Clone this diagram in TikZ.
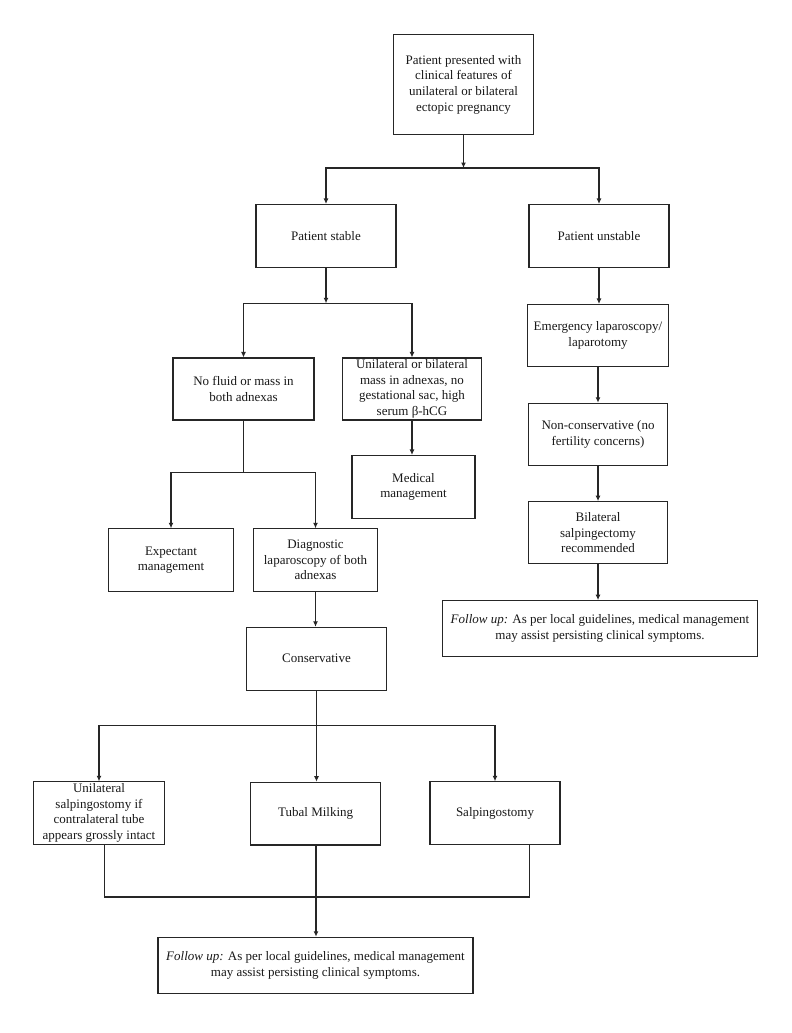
\documentclass[tikz,border=0pt]{standalone}
\usepackage{fontspec}
\setmainfont{Liberation Serif}
\usetikzlibrary{arrows.meta}
\begin{document}
\begin{tikzpicture}[x=1pt,y=-1pt,
  box/.style={draw=black!85, line width=1.1pt, align=center, inner sep=0pt,
    font=\fontsize{13}{15.7}\selectfont, text=black!90},
  conn/.style={draw=black!85, line width=1.1pt},
  arr/.style={conn, -{Latex[length=5.5pt,width=5pt]}}]
\useasboundingbox (0,0) rectangle (792,1033);
\fill[white] (0,0) rectangle (792,1033);

\node[box, minimum width=140pt, minimum height=99.6pt] (top) at (463.5,84.5)
  {Patient presented with\\clinical features of\\unilateral or bilateral\\ectopic pregnancy};
\node[box, minimum width=140pt, minimum height=63pt] (stable) at (326,236) {Patient stable};
\node[box, minimum width=140pt, minimum height=63pt] (unstable) at (599,236) {Patient unstable};
\node[box, minimum width=141pt, minimum height=62pt] (nofluid) at (243.5,389) {No fluid or mass in\\both adnexas};
\node[box, minimum width=139.5pt, minimum height=62pt] (unimass) at (412,389)
  {Unilateral or bilateral\\mass in adnexas, no\\gestational sac, high\\serum β-hCG};
\node[box, minimum width=123pt, minimum height=63pt] (medical) at (413.5,487) {Medical\\management};
\node[box, minimum width=141pt, minimum height=62pt] (emerg) at (598,335.5) {Emergency laparoscopy/\\laparotomy};
\node[box, minimum width=139.5pt, minimum height=62.4pt] (noncons) at (598,434.5) {Non-conservative (no\\fertility concerns)};
\node[box, minimum width=139.5pt, minimum height=62pt] (bilat) at (598,532.7) {Bilateral\\salpingectomy\\recommended};
\node[box, minimum width=314.6pt, minimum height=55.6pt] (fu1) at (600,628.5)
  {\textit{Follow up:} As per local guidelines, medical management\\may assist persisting clinical symptoms.};
\node[box, minimum width=125.4pt, minimum height=62.3pt] (expect) at (171,560) {Expectant\\management};
\node[box, minimum width=124pt, minimum height=62.3pt] (diag) at (315.5,560) {Diagnostic\\laparoscopy of both\\adnexas};
\node[box, minimum width=139.3pt, minimum height=62.7pt] (cons) at (316.5,658.7) {Conservative};
\node[box, minimum width=130.3pt, minimum height=62.3pt] (unisalp) at (99,813)
  {Unilateral\\salpingostomy if\\contralateral tube\\appears grossly intact};
\node[box, minimum width=130pt, minimum height=62.7pt] (tubal) at (315.7,813.6) {Tubal Milking};
\node[box, minimum width=130pt, minimum height=62.3pt] (salp) at (495,813) {Salpingostomy};
\node[box, minimum width=315pt, minimum height=56pt] (fu2) at (315.5,965.3)
  {\textit{Follow up:} As per local guidelines, medical management\\may assist persisting clinical symptoms.};

% junctions
\coordinate (j1) at (463.5,168);
\coordinate (j2) at (326,303.3);
\coordinate (j3) at (243.5,472.7);
\coordinate (j4) at (316.5,725.7);
\coordinate (b1) at (104.3,844.2);
\coordinate (b2) at (529.3,844.2);
\coordinate (jb) at (316,897);

\draw[arr] (top.south) -- (j1);
\draw[arr] (j1) -| (stable.north);
\draw[arr] (j1) -| (unstable.north);
\draw[arr] (stable.south) -- (j2);
\draw[arr] (j2) -| (nofluid.north);
\draw[arr] (j2) -| (unimass.north);
\draw[arr] (unimass.south) -- (medical.north -| unimass.south);
\draw[arr] (unstable.south) -- (emerg.north -| unstable.south);
\draw[arr] (emerg.south) -- (noncons.north);
\draw[arr] (noncons.south) -- (bilat.north);
\draw[arr] (bilat.south) -- (fu1.north -| bilat.south);
\draw[conn] (nofluid.south) -- (j3);
\draw[arr] (j3) -| (expect.north);
\draw[arr] (j3) -| (diag.north);
\draw[arr] (diag.south) -- (cons.north -| diag.south);
\draw[conn] (cons.south) -- (j4);
\draw[arr] (j4) -| (unisalp.north);
\draw[arr] (j4) -| (salp.north);
\draw[arr] (j4) -- (tubal.north -| j4);
\draw[conn] (b1) |- (jb) -| (b2);
\draw[arr] (tubal.south -| jb) -- (fu2.north -| jb);
\end{tikzpicture}
\end{document}
